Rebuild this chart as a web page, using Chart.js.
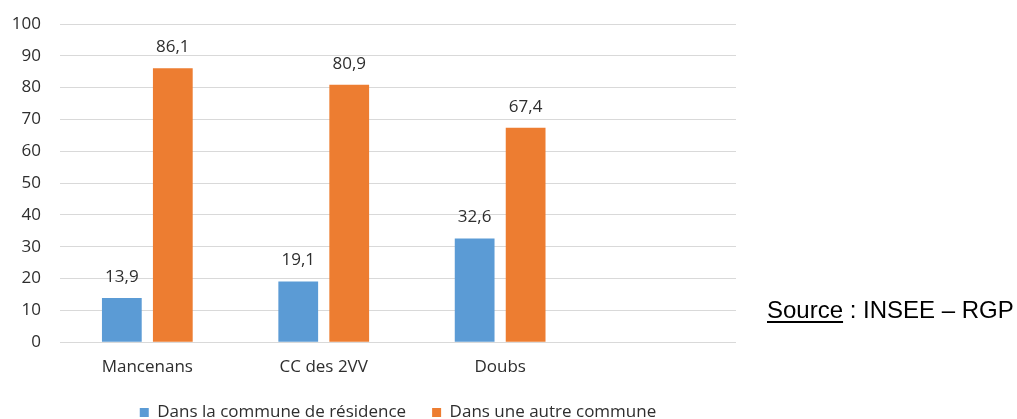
<!DOCTYPE html>
<html lang="fr">
<head>
<meta charset="utf-8">
<title>Lieu de travail des actifs</title>
<script src="https://cdn.jsdelivr.net/npm/chart.js@4.4.1/dist/chart.umd.min.js"></script>
<style>
  html, body { margin: 0; padding: 0; background: #fff; overflow: hidden; }
  body { width: 1017px; height: 419px; position: relative; }
  #wrap { position: absolute; left: 0; top: 0; width: 790px; height: 431px; }
  #source {
    position: absolute; left: 767px; top: 296px;
    font-family: "Liberation Sans", Arial, sans-serif;
    font-size: 24px; line-height: 28px; color: #000; white-space: nowrap;
  }
  #source u { text-decoration: underline; text-underline-offset: 3px; text-decoration-thickness: 2px; }
</style>
</head>
<body>
<div id="wrap"><canvas id="chart"></canvas></div>
<div id="source"><u>Source</u> : INSEE – RGP</div>
<script>
// Territories compared
const categories = ['Mancenans', 'CC des 2VV', 'Doubs'];
// Series names
const seriesNames = ['Dans la commune de résidence', 'Dans une autre commune'];
// Share of workers (%) working in their own commune
const inHomeCommune = [13.9, 19.1, 32.6];
// Share of workers (%) working in another commune
const inOtherCommune = [86.1, 80.9, 67.4];
// Value axis ticks
const yTickValues = [0, 10, 20, 30, 40, 50, 60, 70, 80, 90, 100];

const TEXT_COLOR = '#2e2e2e';
const FONT_FAMILY = "'Open Sans', 'Noto Sans', sans-serif";

Chart.defaults.font.family = FONT_FAMILY;
Chart.defaults.font.size = 17;
Chart.defaults.color = TEXT_COLOR;

const toPoints = values => values.map((v, i) => ({ x: i, y: v }));

// Writes each bar's value above it, with a decimal comma
const valueLabels = {
  id: 'valueLabels',
  afterDatasetsDraw(chart) {
    const { ctx } = chart;
    ctx.save();
    ctx.font = '17px ' + FONT_FAMILY;
    ctx.fillStyle = TEXT_COLOR;
    ctx.textAlign = 'center';
    ctx.textBaseline = 'middle';
    chart.data.datasets.forEach((ds, di) => {
      chart.getDatasetMeta(di).data.forEach((bar, i) => {
        const v = ds.data[i].y;
        ctx.fillText(v.toFixed(1).replace('.', ','), bar.x, bar.y - 21);
      });
    });
    ctx.restore();
  }
};

new Chart(document.getElementById('chart'), {
  type: 'bar',
  data: {
    datasets: [
      {
        label: seriesNames[0],
        data: toPoints(inHomeCommune),
        backgroundColor: '#5B9BD5',
        borderWidth: 0
      },
      {
        label: seriesNames[1],
        data: toPoints(inOtherCommune),
        backgroundColor: '#ED7D31',
        borderWidth: 0
      }
    ]
  },
  options: {
    responsive: true,
    maintainAspectRatio: false,
    animation: false,
    events: [],
    categoryPercentage: 0.578,
    barPercentage: 0.78,
    layout: { padding: { left: 12, right: 54, top: 24, bottom: 0 } },
    scales: {
      x: {
        type: 'linear',
        offset: false,
        min: -0.495,
        max: 3.337,
        afterBuildTicks: axis => { axis.ticks = categories.map((_, i) => ({ value: i })); },
        afterFit: axis => {
          axis.height = 35.8;
          axis.paddingLeft = 0;
          axis.paddingRight = 0;
        },
        grid: { display: false, drawTicks: false },
        border: { display: false },
        ticks: {
          padding: 14.8,
          autoSkip: false,
          maxRotation: 0,
          callback: value => categories[value] ?? ''
        }
      },
      y: {
        min: 0,
        max: 100,
        afterBuildTicks: axis => { axis.ticks = yTickValues.map(v => ({ value: v })); },
        afterFit: axis => {
          axis.width = 48;
          axis.paddingTop = 0;
          axis.paddingBottom = 0;
        },
        grid: { color: '#D9D9D9', lineWidth: 1, drawTicks: false },
        border: { display: false },
        ticks: { padding: 19 }
      }
    },
    plugins: {
      legend: {
        position: 'bottom',
        fullSize: false,
        labels: {
          boxWidth: 9,
          boxHeight: 9,
          padding: 26,
          color: TEXT_COLOR,
          font: { size: 17 }
        }
      },
      tooltip: { enabled: false }
    }
  },
  plugins: [valueLabels]
});
</script>
</body>
</html>
